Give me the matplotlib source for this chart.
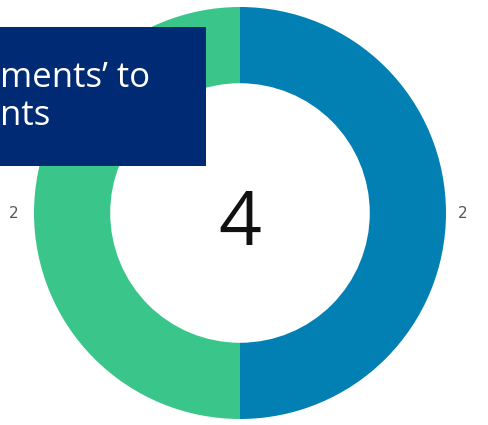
import matplotlib.pyplot as plt
from matplotlib.patches import Rectangle

#-----Data-----#
labels = ['A', 'B']
values = [2, 2]
colors = ['#0280b3', '#3ac68a']
total = sum(values)
box_lines = ['ments\u2019 to', 'nts']

#-----Figure in pixel coordinates-----#
fig = plt.figure(figsize=(4.89, 4.25), dpi=100)
ax = fig.add_axes([0, 0, 1, 1])

cx, cy = 240, 212
r_out = 206

ax.pie(values, colors=colors, startangle=90, counterclock=False,
       radius=r_out, center=(cx, cy), frame=True,
       wedgeprops=dict(width=r_out * 0.37, edgecolor='none'))
ax.set_xlim(0, 489)
ax.set_ylim(0, 425)
ax.set_aspect('equal')
ax.axis('off')

#-----Value labels either side-----#
ax.text(cx + r_out + 17, cy, str(values[0]), ha='center', va='center',
        fontsize=11, color='#555555')
ax.text(cx - r_out - 20, cy, str(values[1]), ha='center', va='center',
        fontsize=11, color='#555555')

#-----Centre total-----#
ax.text(cx, 425 - 245, str(total), ha='center', va='baseline', fontsize=54,
        family='Open Sans', color='#111111')

#-----Title box overlay-----#
ax.add_patch(Rectangle((0, 425 - 166), 206, 139, facecolor='#002b74',
                       edgecolor='none', zorder=5))
ax.text(0, 425 - 87, box_lines[0], ha='left', va='baseline', fontsize=25,
        family='Open Sans', color='white', zorder=6)
ax.text(0, 425 - 125, box_lines[1], ha='left', va='baseline', fontsize=25,
        family='Open Sans', color='white', zorder=6)

fig.savefig('out.png', dpi=100)
